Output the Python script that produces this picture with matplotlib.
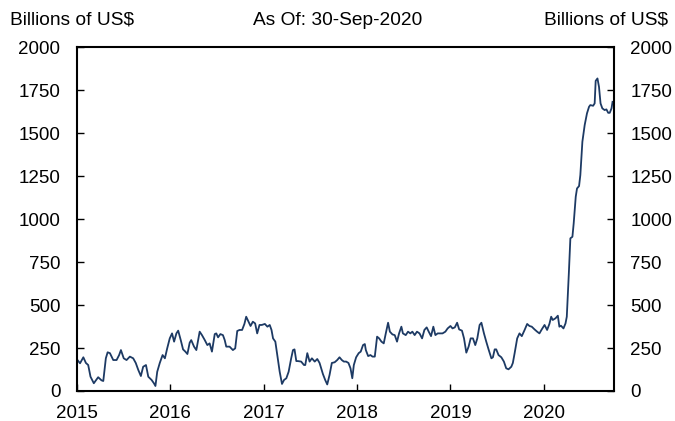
import pandas as pd
import matplotlib
matplotlib.use('Agg')
import matplotlib.pyplot as plt
import matplotlib.dates as mdates

plt.rcParams['font.family'] = ['Liberation Sans', 'DejaVu Sans']

# weekly-ish readings, billions of US$
dates = [
    '2015-01-01', '2015-01-13', '2015-01-26', '2015-02-05', '2015-02-14', '2015-02-23',
    '2015-03-08', '2015-03-25', '2015-04-07', '2015-04-14', '2015-04-24', '2015-05-01',
    '2015-05-10', '2015-05-23', '2015-06-05', '2015-06-15', '2015-06-22', '2015-07-03',
    '2015-07-14', '2015-07-27', '2015-08-09', '2015-08-19', '2015-08-29', '2015-09-08',
    '2015-09-17', '2015-09-28', '2015-10-07', '2015-10-20', '2015-10-29', '2015-11-04',
    '2015-11-11', '2015-11-21', '2015-12-02', '2015-12-11', '2015-12-20', '2015-12-27',
    '2015-12-30', '2016-01-08', '2016-01-16', '2016-01-25', '2016-02-01', '2016-02-11',
    '2016-02-20', '2016-02-29', '2016-03-08', '2016-03-17', '2016-03-23', '2016-04-03',
    '2016-04-12', '2016-04-25', '2016-05-04', '2016-05-15', '2016-05-25', '2016-06-03',
    '2016-06-12', '2016-06-23', '2016-06-29', '2016-07-06', '2016-07-15', '2016-07-25',
    '2016-08-01', '2016-08-07', '2016-08-20', '2016-09-02', '2016-09-11', '2016-09-19',
    '2016-09-28', '2016-10-08', '2016-10-17', '2016-10-24', '2016-11-02', '2016-11-10',
    '2016-11-19', '2016-11-28', '2016-12-06', '2016-12-15', '2016-12-24', '2017-01-05',
    '2017-01-15', '2017-01-24', '2017-01-31', '2017-02-06', '2017-02-15', '2017-02-26',
    '2017-03-04', '2017-03-13', '2017-03-21', '2017-03-30', '2017-04-08', '2017-04-18',
    '2017-04-25', '2017-05-01', '2017-05-08', '2017-05-14', '2017-05-27', '2017-06-07',
    '2017-06-12', '2017-06-20', '2017-06-29', '2017-07-08', '2017-07-19', '2017-07-29',
    '2017-08-07', '2017-08-20', '2017-08-29', '2017-09-06', '2017-09-15', '2017-09-24',
    '2017-10-05', '2017-10-15', '2017-10-24', '2017-11-02', '2017-11-10', '2017-11-19',
    '2017-11-28', '2017-12-06', '2017-12-13', '2017-12-19', '2017-12-28', '2018-01-07',
    '2018-01-15', '2018-01-24', '2018-01-31', '2018-02-04', '2018-02-13', '2018-02-22',
    '2018-03-02', '2018-03-11', '2018-03-20', '2018-03-28', '2018-04-06', '2018-04-15',
    '2018-04-23', '2018-05-02', '2018-05-09', '2018-05-19', '2018-05-28', '2018-06-06',
    '2018-06-14', '2018-06-23', '2018-06-29', '2018-07-10', '2018-07-19', '2018-07-28',
    '2018-08-05', '2018-08-14', '2018-08-23', '2018-09-02', '2018-09-12', '2018-09-21',
    '2018-09-30', '2018-10-08', '2018-10-17', '2018-10-26', '2018-11-03', '2018-11-12',
    '2018-11-21', '2018-12-01', '2018-12-12', '2018-12-21', '2019-01-01', '2019-01-09',
    '2019-01-18', '2019-01-27', '2019-02-04', '2019-02-15', '2019-02-23', '2019-03-04',
    '2019-03-13', '2019-03-21', '2019-03-30', '2019-04-08', '2019-04-16', '2019-04-25',
    '2019-05-02', '2019-05-12', '2019-05-21', '2019-05-30', '2019-06-10', '2019-06-16',
    '2019-06-23', '2019-06-29', '2019-07-08', '2019-07-19', '2019-07-29', '2019-08-07',
    '2019-08-16', '2019-08-27', '2019-09-02', '2019-09-09', '2019-09-19', '2019-09-28',
    '2019-10-07', '2019-10-18', '2019-10-28', '2019-11-06', '2019-11-15', '2019-11-26',
    '2019-12-06', '2019-12-15', '2019-12-24', '2020-01-04', '2020-01-14', '2020-01-23',
    '2020-01-30', '2020-02-05', '2020-02-16', '2020-02-25', '2020-03-02', '2020-03-08',
    '2020-03-18', '2020-03-26', '2020-03-31', '2020-04-08', '2020-04-14', '2020-04-22',
    '2020-04-27', '2020-05-05', '2020-05-10', '2020-05-18', '2020-05-23', '2020-05-31',
    '2020-06-09', '2020-06-18', '2020-06-26', '2020-07-01', '2020-07-12', '2020-07-18',
    '2020-07-22', '2020-07-29', '2020-08-04', '2020-08-10', '2020-08-17', '2020-08-26',
    '2020-09-02', '2020-09-09', '2020-09-15', '2020-09-22', '2020-09-26',
]
values = [
    184, 161, 196, 163, 151, 83,
    45, 80, 62, 58, 190, 225,
    220, 180, 180, 209, 238, 190,
    180, 200, 190, 163, 122, 87,
    141, 151, 83, 64, 45, 29,
    112, 163, 209, 190, 248, 287,
    306, 335, 287, 335, 351, 296,
    242, 229, 215, 281, 296, 258,
    238, 345, 325, 296, 267, 277,
    229, 331, 335, 312, 331, 325,
    296, 258, 258, 238, 248, 349,
    355, 355, 390, 432, 403, 378,
    403, 393, 335, 384, 384, 390,
    374, 384, 355, 306, 287, 171,
    112, 41, 64, 74, 112, 190,
    238, 242, 174, 174, 171, 151,
    151, 220, 171, 190, 171, 186,
    163, 99, 64, 38, 93, 163,
    167, 180, 196, 180, 171, 171,
    163, 132, 74, 151, 196, 220,
    229, 267, 273, 238, 203, 209,
    200, 200, 316, 306, 287, 277,
    335, 397, 345, 329, 325, 287,
    335, 374, 335, 325, 345, 335,
    345, 325, 345, 335, 306, 355,
    370, 345, 319, 374, 325, 335,
    335, 335, 345, 364, 378, 364,
    370, 397, 358, 351, 306, 223,
    258, 306, 306, 267, 306, 384,
    397, 335, 287, 242, 190, 196,
    242, 242, 209, 196, 171, 132,
    126, 141, 163, 220, 306, 335,
    319, 355, 390, 378, 374, 358,
    345, 335, 358, 384, 355, 390,
    432, 413, 423, 438, 374, 380,
    364, 393, 432, 684, 888, 897,
    975, 1130, 1178, 1192, 1256, 1450,
    1547, 1615, 1653, 1663, 1659, 1673,
    1804, 1818, 1769, 1673, 1644, 1634,
    1638, 1618, 1618, 1644, 1682,
]
y_ticks = [0, 250, 500, 750, 1000, 1250, 1500, 1750, 2000]

df = pd.DataFrame({'date': pd.to_datetime(dates), 'value': values})

fig = plt.figure(figsize=(6.75, 4.21), dpi=100)
ax = fig.add_axes([0.114, 0.0713, 0.795, 0.8167])
ax.plot(df['date'], df['value'], color='#1d3a64', lw=1.3)

ax.set_xlim(pd.Timestamp('2015-01-01'), pd.Timestamp('2020-09-30'))
ax.set_ylim(0, 2000)
ax.set_yticks(y_ticks)
ax.xaxis.set_major_locator(mdates.YearLocator())
ax.xaxis.set_major_formatter(mdates.DateFormatter('%Y'))

for s in ax.spines.values():
    s.set_linewidth(1.5)
ax.tick_params(axis='x', direction='in', length=5, width=1, labelsize=13.5, pad=10)
ax.tick_params(axis='y', direction='in', length=5, width=1, labelsize=13.5, pad=12,
               right=True, labelright=True)

fig.text(0.015, 0.952, 'Billions of US$', fontsize=13.8, ha='left', va='center')
fig.text(0.5, 0.952, 'As Of: 30-Sep-2020', fontsize=13.8, ha='center', va='center')
fig.text(0.99, 0.952, 'Billions of US$', fontsize=13.8, ha='right', va='center')

fig.savefig('out.png', dpi=100)
